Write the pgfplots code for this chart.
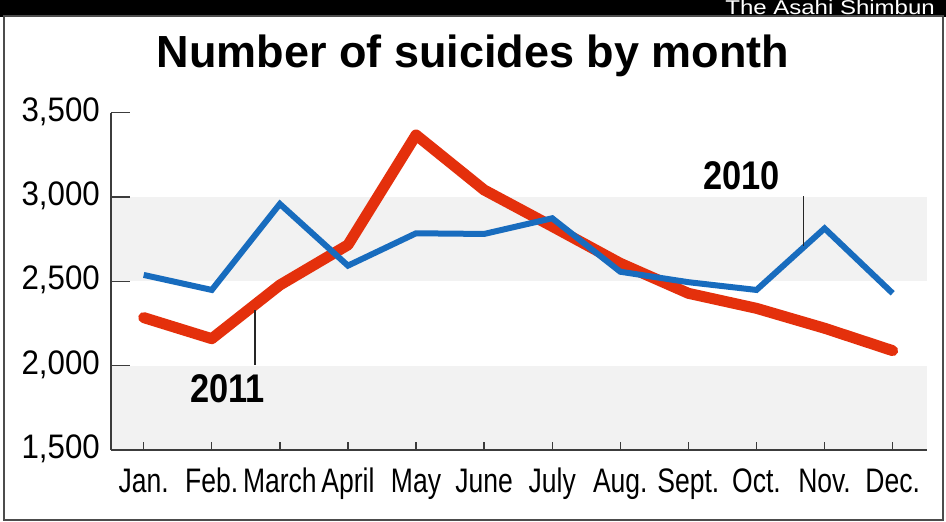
\documentclass[border=0pt]{standalone}
\usepackage{pgfplots}
\pgfplotsset{compat=1.18}
\usepackage{fontspec}
\setmainfont{Liberation Sans}
\newfontfamily\ylabfont[FakeStretch=0.92]{Liberation Sans}
\newfontfamily\xlabfont[FakeStretch=0.78]{Liberation Sans}
\newfontfamily\yearfont[FakeStretch=0.86]{Liberation Sans}
\newfontfamily\logofont[FakeStretch=1.2]{Liberation Sans}
\definecolor{blueline}{RGB}{24,108,190}
\definecolor{redline}{RGB}{228,48,12}
\definecolor{band}{RGB}{242,242,242}
\definecolor{axisgray}{RGB}{60,60,60}
\begin{document}
\begin{tikzpicture}[x=1pt,y=1pt]
\path[use as bounding box] (0,0) rectangle (946,522);
\fill[white] (0,0) rectangle (946,522);
\fill[black] (0,505) rectangle (946,522);
\draw[line width=2pt, black!70] (4,1.5) rectangle (943,506);
\node[anchor=base east, text=white, font=\logofont\fontsize{20}{24}\selectfont, inner sep=0] at (935,507) {The Asahi Shimbun};
\node[anchor=base, font=\fontsize{45}{54}\selectfont\bfseries, inner sep=0] at (473,454) {Number of suicides by month};
\begin{axis}[
  at={(111pt,72pt)}, anchor=south west,
  scale only axis, width=815.7pt, height=337.3pt,
  xmin=-0.48, xmax=11.5, ymin=1500, ymax=3500,
  axis x line*=bottom, axis y line*=left,
  axis line style={-, axisgray, line width=1.6pt},
  axis on top,
  clip=false,
  tick align=inside,
  major tick length=19pt,
  xtick style={/pgfplots/major tick length=8pt, axisgray, line width=1.4pt},
  ytick style={axisgray, line width=1.4pt},
  xtick={0,1,2,3,4,5,6,7,8,9,10,11},
  xticklabels={Jan.,Feb.,March,April,May,June,July,Aug.,Sept.,Oct.,Nov.,Dec.},
  ytick={1500,2000,2500,3000,3500},
  yticklabels={{1,500},{2,000},{2,500},{3,000},{3,500}},
  xticklabel style={anchor=base, inner sep=0pt, yshift=-43pt, font=\xlabfont\fontsize{34}{36}\selectfont},
  yticklabel style={anchor=base east, inner sep=0pt, xshift=-11pt, yshift=-8.5pt, font=\ylabfont\fontsize{34}{36}\selectfont},
  /pgf/number format/assume math mode=true,
]
\fill[band] (axis cs:-0.48,2500) rectangle (axis cs:11.5,3000);
\fill[band] (axis cs:-0.48,1500) rectangle (axis cs:11.5,2000);
\addplot[redline, line width=11pt, line cap=round, line join=round] coordinates {
 (0,2285) (1,2160) (2,2478) (3,2716) (4,3368) (5,3042)
 (6,2826) (7,2607) (8,2429) (9,2340) (10,2222) (11,2089)};
\addplot[blueline, line width=6pt] coordinates {
 (0,2538) (1,2449) (2,2959) (3,2593) (4,2785) (5,2781)
 (6,2874) (7,2557) (8,2495) (9,2449) (10,2814) (11,2429)};
\end{axis}
\draw[line width=1.3pt, black!85] (255,157) -- (255,212);
\draw[line width=1.3pt, black!85] (803.3,276) -- (803.3,326);
\node[anchor=base, inner sep=0, font=\yearfont\bfseries\fontsize{40}{48}\selectfont] at (227.5,119) {2011};
\node[anchor=base, inner sep=0, font=\yearfont\bfseries\fontsize{40}{48}\selectfont] at (741.7,332) {2010};
\end{tikzpicture}
\end{document}
